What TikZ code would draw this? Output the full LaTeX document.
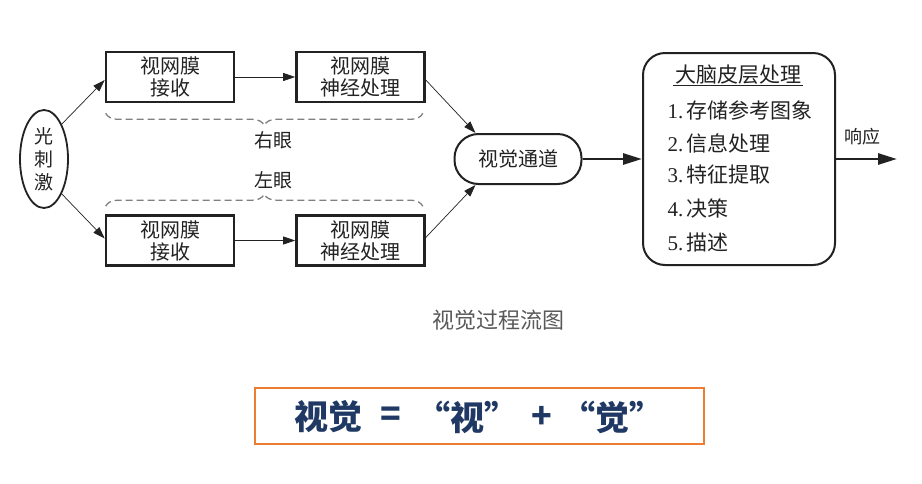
\documentclass[tikz,border=0pt]{standalone}
\usepackage{fontspec}
\setmainfont{Noto Sans CJK SC}
\newfontfamily\lat{Liberation Serif}
\usetikzlibrary{shapes.geometric,arrows.meta,decorations.pathreplacing}
\definecolor{ink}{HTML}{222222}
\definecolor{eqblue}{HTML}{1F3864}
\definecolor{eqorange}{HTML}{ED7D31}
\begin{document}
\begin{tikzpicture}[x=1pt,y=-1pt,
  every node/.style={text=ink, font=\fontsize{20}{22}\selectfont},
  box/.style={draw=ink, line width=2.6pt, minimum width=128pt, minimum height=50pt, align=center, inner sep=0pt},
  arr/.style={draw=ink, -{Triangle[length=12pt,width=8pt]}, line width=0.7pt},
  bigarr/.style={draw=ink, -{Triangle[length=19pt,width=11pt]}, line width=2.8pt},
  eyebrace/.style={draw=black!50, line width=1.3pt, dash pattern=on 7pt off 4pt, decorate, decoration={brace, amplitude=12pt}},
  citem/.style={anchor=west, font=\fontsize{21}{24}\selectfont},
  eqtext/.style={text=eqblue, font=\fontsize{34}{40}\selectfont\bfseries, inner sep=0pt}]
\useasboundingbox (0,0) rectangle (922,483);
\fill[white] (0,0) rectangle (922,483);

% stimulus
\node[ellipse, draw=ink, line width=1.8pt, minimum width=48pt, minimum height=98pt, inner sep=0pt, align=center, font=\fontsize{19}{23}\selectfont] (stim) at (44,159) {光\\刺\\激};

% boxes
\node[box] (r1) at (170,77) {视网膜\\接收};
\node[box] (r2) at (360.5,77) {视网膜\\神经处理};
\node[box] (l1) at (170,240.5) {视网膜\\接收};
\node[box] (l2) at (360.5,240.5) {视网膜\\神经处理};

% channel
\node[draw=ink, line width=2pt, rounded corners=24pt, minimum width=127pt, minimum height=50pt] (chan) at (518,159) {视觉通道};

% cortex
\node[draw=ink, line width=2pt, rounded corners=22pt, minimum width=192pt, minimum height=212pt] (cortex) at (739,159) {};
\node[font=\fontsize{21}{24}\selectfont] (ctitle) at (738,75) {大脑皮层处理};
\draw[ink, line width=0.9pt] ([xshift=2pt,yshift=-3pt]ctitle.base west) -- ([xshift=-2pt,yshift=-3pt]ctitle.base east);
\node[citem] (c1) at (664,110) {{\lat 1.}\,存储参考图象};
\node[citem] (c2) at (664,143) {{\lat 2.}\,信息处理};
\node[citem] (c3) at (664,175) {{\lat 3.}\,特征提取};
\node[citem] (c4) at (664,208) {{\lat 4.}\,决策};
\node[citem] (c5) at (664,242) {{\lat 5.}\,描述};

% response
\coordinate (resp) at (897,159);
\node[font=\fontsize{18}{20}\selectfont] (resplbl) at (862,137) {响应};

% eye labels and braces
\node[font=\fontsize{19}{20}\selectfont] (eyeR) at (273,140) {右眼};
\node[font=\fontsize{19}{20}\selectfont] (eyeL) at (273,180) {左眼};
\draw[eyebrace, decoration={mirror}] ([xshift=1pt,yshift=-10pt]r1.south west) -- ([xshift=-3pt,yshift=-10pt]r2.south east);
\draw[eyebrace] ([xshift=1pt,yshift=8pt]l1.north west) -- ([xshift=-3pt,yshift=8pt]l2.north east);

% connectors
\draw[arr] (stim.63) -- ([yshift=-3pt]r1.west);
\draw[arr] (stim.-63) -- ([yshift=2pt]l1.west);
\draw[arr] (r1.east) -- (r2.west);
\draw[arr] (l1.east) -- (l2.west);
\draw[arr] ([yshift=-3pt]r2.east) -- ([xshift=22pt]chan.north west);
\draw[arr] ([yshift=3pt]l2.east) -- ([xshift=22pt]chan.south west);
\draw[bigarr] (chan.east) -- (cortex.west);
\draw[bigarr] (cortex.east) -- (resp);

% caption
\node[text=black!65, font=\fontsize{22}{24}\selectfont] (cap) at (498,320) {视觉过程流图};

% equation box
\node[draw=eqorange, line width=2.8pt, minimum width=449pt, minimum height=56pt, inner sep=0pt] (eqbox) at (479.5,416) {};
\node[eqtext] (eqA) at (328,417) {视觉};
\node[eqtext] (eqB) at (391,417) {=};
\node[eqtext] (eqC) at (467,417) {“视”};
\node[eqtext] (eqD) at (542,417) {+};
\node[eqtext] (eqE) at (612,417) {“觉”};
\end{tikzpicture}
\end{document}
